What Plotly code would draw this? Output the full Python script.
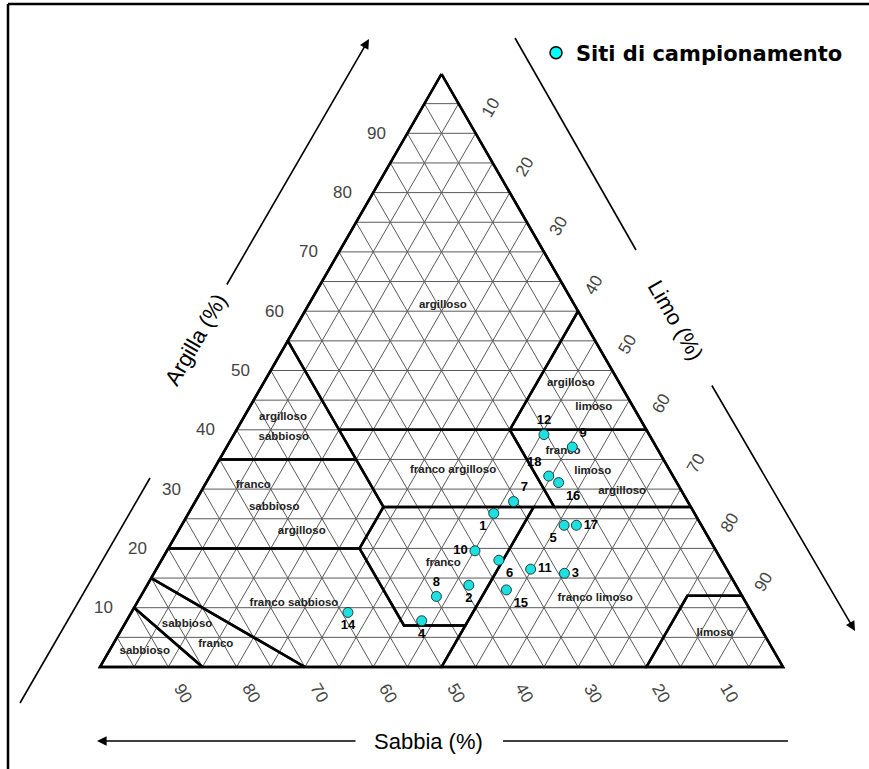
import plotly.graph_objects as go

# ---------------- data ----------------
site_labels = ["1", "2", "3", "4", "5", "6", "7", "8", "9", "10", "11", "12", "14", "15", "16", "17", "18"]
site_clay = [25.9, 13.8, 15.8, 7.8, 23.9, 18.0, 27.9, 11.9, 37.1, 19.6, 16.5, 39.2, 9.2, 13.0, 31.1, 23.9, 32.2]
site_sand = [29.4, 39.1, 24.1, 49.0, 20.1, 32.6, 25.5, 44.8, 12.3, 35.3, 28.7, 15.4, 59.1, 34.0, 17.3, 18.3, 18.2]
site_silt = [44.7, 47.1, 60.1, 43.2, 56.0, 49.4, 46.6, 43.3, 50.6, 45.1, 54.8, 45.4, 31.7, 53.0, 51.6, 57.8, 49.6]
site_textpos = ["bottom left", "bottom center", "middle right", "bottom center", "bottom left",
                "bottom right", "top right", "top center", "top right", "middle left",
                "middle right", "top center", "bottom center", "bottom right", "bottom right",
                "middle right", "top left"]

tick_values = [10, 20, 30, 40, 50, 60, 70, 80, 90]
grid_values = [5, 10, 15, 20, 25, 30, 35, 40, 45, 50, 55, 60, 65, 70, 75, 80, 85, 90, 95]

# soil texture class polygons, vertices as (clay, sand, silt)
triangle_outline = [(100, 0, 0), (0, 100, 0), (0, 0, 100), (100, 0, 0)]
cls_argilloso = [(100, 0, 0), (60, 0, 40), (40, 20, 40), (40, 45, 15), (55, 45, 0), (100, 0, 0)]
cls_argilloso_limoso = [(60, 0, 40), (40, 0, 60), (40, 20, 40), (60, 0, 40)]
cls_argilloso_sabbioso = [(55, 45, 0), (40, 45, 15), (35, 45, 20), (35, 65, 0), (55, 45, 0)]
cls_franco_argilloso = [(40, 45, 15), (40, 20, 40), (27, 20, 53), (27, 45, 28), (40, 45, 15)]
cls_franco_limoso_argilloso = [(40, 20, 40), (40, 0, 60), (27, 0, 73), (27, 20, 53), (40, 20, 40)]
cls_franco_sabbioso_argilloso = [(35, 65, 0), (35, 45, 20), (27, 45, 28), (20, 52, 28), (20, 80, 0), (35, 65, 0)]
cls_franco = [(27, 45, 28), (27, 23, 50), (7, 43, 50), (7, 52, 41), (20, 52, 28), (27, 45, 28)]
cls_franco_limoso = [(27, 23, 50), (27, 0, 73), (12, 0, 88), (12, 8, 80), (0, 20, 80), (0, 50, 50), (7, 43, 50), (27, 23, 50)]
cls_limoso = [(12, 0, 88), (0, 0, 100), (0, 20, 80), (12, 8, 80), (12, 0, 88)]
cls_franco_sabbioso = [(20, 80, 0), (20, 52, 28), (7, 52, 41), (7, 43, 50), (0, 50, 50), (0, 70, 30), (15, 85, 0), (20, 80, 0)]
cls_sabbioso_franco = [(15, 85, 0), (0, 70, 30), (0, 85, 15), (10, 90, 0), (15, 85, 0)]
cls_sabbioso = [(10, 90, 0), (0, 85, 15), (0, 100, 0), (10, 90, 0)]

class_label_text = ["argilloso", "argilloso", "limoso", "argilloso", "sabbioso", "franco argilloso",
                    "franco", "limoso", "argilloso", "franco", "sabbioso", "argilloso", "franco",
                    "franco limoso", "limoso", "franco sabbioso", "sabbioso", "franco", "sabbioso"]
class_label_clay = [61.0, 47.9, 43.8, 42.2, 38.8, 33.2, 36.4, 33.1, 29.7, 30.7, 27.0, 22.9, 17.5, 11.6, 5.7, 10.8, 7.3, 3.9, 2.7]
class_label_sand = [19.3, 7.1, 5.8, 52.1, 53.7, 31.7, 14.0, 11.3, 8.7, 62.2, 61.0, 59.0, 41.0, 21.7, 7.1, 66.2, 83.6, 81.1, 92.1]
class_label_silt = [19.7, 45.0, 50.4, 5.7, 7.5, 35.1, 49.6, 55.6, 61.6, 7.1, 12.0, 18.1, 41.5, 66.7, 87.2, 23.0, 9.1, 15.0, 5.2]

# ---------------- geometry (pixel layout) ----------------
W, H = 869, 769
PX_LEFT, PX_RIGHT = 100.0, 783.0     # triangle base corners (px)
PY_BASE, PY_APEX = 667.0, 74.0       # base / apex (px)
SX = (PX_RIGHT - PX_LEFT) / 100.0
SY = (PY_BASE - PY_APEX) / 100.0


def to_xy(clay, sand, silt):
    return silt + clay / 2.0, clay


def poly_xy(vertices):
    xs, ys = [], []
    for c, s, l in vertices:
        x, y = to_xy(c, s, l)
        xs.append(x)
        ys.append(y)
    return xs, ys


def pp(xpx, ypx):
    return xpx / W, 1 - ypx / H


fig = go.Figure()

# grid lines
gx, gy = [], []
for v in grid_values:
    for a, b in [((v, 100 - v, 0), (v, 0, 100 - v)),
                 ((100 - v, v, 0), (0, v, 100 - v)),
                 ((100 - v, 0, v), (0, 100 - v, v))]:
        x0, y0 = to_xy(*a)
        x1, y1 = to_xy(*b)
        gx += [x0, x1, None]
        gy += [y0, y1, None]
fig.add_trace(go.Scatter(x=gx, y=gy, mode="lines", line=dict(color="#5a5a5a", width=1),
                         hoverinfo="skip", showlegend=False))

# class boundaries
for poly in [cls_argilloso, cls_argilloso_limoso, cls_argilloso_sabbioso, cls_franco_argilloso,
             cls_franco_limoso_argilloso, cls_franco_sabbioso_argilloso, cls_franco, cls_franco_limoso,
             cls_limoso, cls_franco_sabbioso, cls_sabbioso_franco, cls_sabbioso, triangle_outline]:
    xs, ys = poly_xy(poly)
    fig.add_trace(go.Scatter(x=xs, y=ys, mode="lines", line=dict(color="black", width=2.5),
                             hoverinfo="skip", showlegend=False))

# class labels
lx, ly = [], []
for c, s, l in zip(class_label_clay, class_label_sand, class_label_silt):
    x, y = to_xy(c, s, l)
    lx.append(x)
    ly.append(y)
fig.add_trace(go.Scatter(x=lx, y=ly, mode="text", text=class_label_text,
                         textfont=dict(family="Liberation Sans", size=11.5, color="#222222", weight="bold"),
                         hoverinfo="skip", showlegend=False))

# sampling sites
sx, sy = [], []
for c, s, l in zip(site_clay, site_sand, site_silt):
    x, y = to_xy(c, s, l)
    sx.append(x)
    sy.append(y)
MARKER = dict(size=10, color="#1fe0e0", line=dict(color="#1c3f3f", width=1))
fig.add_trace(go.Scatter(x=sx, y=sy, mode="markers+text", text=site_labels, textposition=site_textpos,
                         marker=MARKER,
                         textfont=dict(family="Liberation Sans", size=13, color="black", weight="bold"),
                         customdata=list(zip(site_clay, site_sand, site_silt)),
                         hovertemplate="Sito %{text}<br>Argilla %{customdata[0]}%<br>Sabbia %{customdata[1]}%<br>Limo %{customdata[2]}%<extra></extra>",
                         showlegend=False))
fig.add_trace(go.Scatter(x=[None], y=[None], mode="markers", name="Siti di campionamento",
                         marker=dict(size=12, color="#00ffff", line=dict(color="black", width=1.5)),
                         showlegend=True))

# tick labels
ann = []
TICKFONT = dict(family="Liberation Sans", size=17, color="#444444")
d_h = 4.5
d_d = 4.4
for v in tick_values:
    x, y = to_xy(v, 100 - v + d_h, -d_h)
    ann.append(dict(x=x, y=y, xref="x", yref="y", text=str(v), showarrow=False, font=TICKFONT,
                    xanchor="center", yanchor="middle"))
    x, y = to_xy(100 - v + d_d, -d_d, v)
    ann.append(dict(x=x, y=y, xref="x", yref="y", text=str(v), showarrow=False, font=TICKFONT,
                    textangle=-60, xanchor="center", yanchor="middle"))
    x, y = to_xy(-d_d, v, 100 - v + d_d)
    ann.append(dict(x=x, y=y, xref="x", yref="y", text=str(v), showarrow=False, font=TICKFONT,
                    textangle=60, xanchor="center", yanchor="middle"))

TITLEFONT = dict(family="Liberation Sans", size=22, color="black")
for txt, (px_, py_), ang in [("Argilla (%)", (195, 340), -60), ("Limo (%)", (676, 320), 60),
                             ("Sabbia (%)", (428, 741), 0)]:
    x, y = pp(px_, py_)
    ann.append(dict(x=x, y=y, xref="paper", yref="paper", text=txt, showarrow=False, font=TITLEFONT,
                    textangle=ang, xanchor="center", yanchor="middle"))

# arrows (head, tail in px)
for head, tail in [((369, 39), (226, 286)), ((855, 631), (711, 384)), ((97, 741), (357, 741))]:
    x, y = pp(*head)
    ann.append(dict(x=x, y=y, xref="paper", yref="paper", ax=tail[0] - head[0], ay=tail[1] - head[1],
                    axref="pixel", ayref="pixel", text="", showarrow=True, arrowhead=2, arrowsize=1.2,
                    arrowwidth=1.6, arrowcolor="black"))

shapes = []
for (a, b) in [((20, 703), (150, 478)), ((515, 38), (636, 250)), ((503, 741), (788, 741))]:
    x0, y0 = pp(*a)
    x1, y1 = pp(*b)
    shapes.append(dict(type="line", xref="paper", yref="paper", x0=x0, y0=y0, x1=x1, y1=y1,
                       line=dict(color="black", width=1.6)))
# picture frame (left and top edges)
for (a, b) in [((8, 4), (8, 769)), ((8, 4), (869, 4))]:
    x0, y0 = pp(*a)
    x1, y1 = pp(*b)
    shapes.append(dict(type="line", xref="paper", yref="paper", x0=x0, y0=y0, x1=x1, y1=y1,
                       line=dict(color="black", width=2.5)))

xr = [-PX_LEFT / SX, (W - PX_LEFT) / SX]
yr = [-(H - PY_BASE) / SY, PY_BASE / SY]
lgx, lgy = pp(536, 53)
fig.update_layout(
    width=W, height=H, margin=dict(l=0, r=0, t=0, b=0),
    paper_bgcolor="white", plot_bgcolor="white",
    xaxis=dict(range=xr, visible=False, fixedrange=True),
    yaxis=dict(range=yr, visible=False, fixedrange=True),
    showlegend=True,
    legend=dict(x=lgx, y=lgy, xanchor="left", yanchor="middle", bgcolor="rgba(0,0,0,0)",
                font=dict(family="DejaVu Sans", size=21, color="black", weight="bold")),
    annotations=ann, shapes=shapes,
)

fig.write_html("out.html", config={"displayModeBar": False},
               post_script="document.body.style.margin='0px';")
